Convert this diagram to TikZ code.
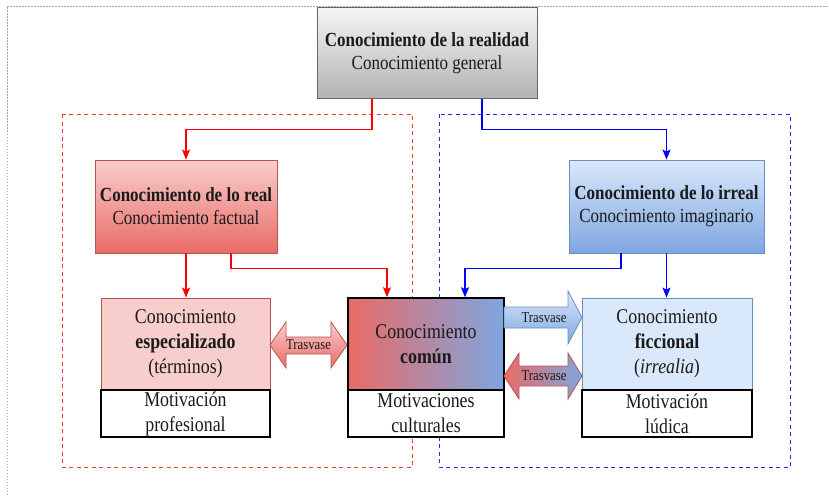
\documentclass[tikz,border=0pt]{standalone}
\usepackage{graphicx}
\usepackage{fontspec}
\setmainfont{Liberation Serif}
\usetikzlibrary{arrows.meta}
\definecolor{rfillA}{HTML}{F8CECC}
\definecolor{rfillB}{HTML}{EA6B66}
\definecolor{rborder}{HTML}{B85450}
\definecolor{bfillA}{HTML}{DAE8FC}
\definecolor{bfillB}{HTML}{7EA6E0}
\definecolor{bborder}{HTML}{6C8EBF}
\definecolor{gfillA}{HTML}{F5F5F5}
\definecolor{gfillB}{HTML}{B3B3B3}
\definecolor{gborder}{HTML}{666666}
\definecolor{txt}{HTML}{1A1A1A}
\definecolor{pure red}{HTML}{FF0000}
\definecolor{pure blue}{HTML}{0000FF}
\newcommand\sq[1]{\scalebox{0.85}[1]{#1}}
\tikzset{
  boxbase/.style={rectangle, inner sep=0pt, align=center, text=txt},
  hdbox/.style={boxbase, font=\fontsize{20}{23}\selectfont},
  lowtext/.style={boxbase, font=\fontsize{21}{25}\selectfont},
  motbox/.style={lowtext, fill=white, draw=black, line width=1.2pt},
  trv/.style={boxbase, font=\fontsize{15}{16}\selectfont},
  redline/.style={draw=pure red, line width=1.1pt, -{Stealth[length=10pt,width=8pt,inset=2pt]}},
  blueline/.style={draw=pure blue, line width=1.1pt, -{Stealth[length=10pt,width=8pt,inset=2pt]}},
  redframe/.style={draw=red!80, line width=1pt, dash pattern=on 4pt off 3.5pt},
  blueframe/.style={draw=pure blue!85, line width=1pt, dash pattern=on 4pt off 3.5pt},
  outerframe/.style={draw=black!35, line width=0.8pt, dash pattern=on 1.5pt off 1.5pt},
}
\begin{document}
\begin{tikzpicture}[x=1pt,y=-1pt]
\useasboundingbox (0,0) rectangle (829,495);
% outer frame
\draw[outerframe] (7,495) -- (7,6) -- (829,6);
% group frames
\draw[redframe] (62,114) rectangle (412,467);
\draw[blueframe] (439,114) rectangle (790,467);
% top box
\node[hdbox, minimum width=220pt, minimum height=90pt, top color=gfillA, bottom color=gfillB, draw=gborder, line width=1pt] (top) at (427,53)
  {\sq{\textbf{Conocimiento de la realidad}}\\\sq{Conocimiento general}};
% second level
\node[hdbox, minimum width=182pt, minimum height=93pt, top color=rfillA, bottom color=rfillB, draw=rborder, line width=0.9pt] (real) at (186,206.5)
  {\sq{\textbf{Conocimiento de lo real}}\\\sq{Conocimiento factual}};
\node[hdbox, minimum width=195pt, minimum height=93pt, top color=bfillA, bottom color=bfillB, draw=bborder, line width=0.9pt] (irreal) at (666.5,206.5)
  {\sq{\textbf{Conocimiento de lo irreal}}\\\sq{Conocimiento imaginario}};
% third level
\node[lowtext, minimum width=169pt, minimum height=92pt, fill=rfillA, draw=rborder, line width=0.9pt] (espec) at (185.5,344)
  {\sq{Conocimiento}\\\sq{\textbf{especializado}}\\\sq{(términos)}};
\node[motbox, minimum width=169pt, minimum height=47pt] (mespec) at (185.5,413.5)
  {\sq{Motivación}\\\sq{profesional}};
\node[lowtext, minimum width=156pt, minimum height=92pt, left color=rfillB, right color=bfillB, draw=black, line width=1.5pt] (comun) at (426,344)
  {\sq{Conocimiento}\\\sq{\textbf{común}}};
\node[motbox, minimum width=156pt, minimum height=47pt, line width=1.5pt] (mcomun) at (426,413.5)
  {\sq{Motivaciones}\\\sq{culturales}};
\node[lowtext, minimum width=170pt, minimum height=92pt, fill=bfillA, draw=bborder, line width=0.9pt] (fic) at (667,344)
  {\sq{Conocimiento}\\\sq{\textbf{ficcional}}\\\sq{(\textit{irrealia})}};
\node[motbox, minimum width=170pt, minimum height=47pt] (mfic) at (667,413.5)
  {\sq{Motivación}\\\sq{lúdica}};
% connectors
\draw[redline] ([xshift=-55pt]top.south) -- ++(0,31) -| (real.north);
\draw[blueline] ([xshift=55pt]top.south) -- ++(0,31) -| (irreal.north);
\draw[redline] (real.south) -- (real.south |- espec.north);
\draw[redline] ([xshift=45pt]real.south) -- ++(0,15) -| ([xshift=-39pt]comun.north);
\draw[blueline] ([xshift=-45.5pt]irreal.south) -- ++(0,15) -| ([xshift=39pt]comun.north);
\draw[blueline] (irreal.south) -- (irreal.south |- fic.north);
% block arrows (Trasvase)
\path[top color=rfillA, bottom color=rfillB, draw=rborder, line width=0.8pt]
  (270,345) -- (286,322) -- (286,337) -- (331,337) -- (331,322) -- (347,345)
  -- (331,368) -- (331,354) -- (286,354) -- (286,368) -- cycle;
\node[trv] (t1) at (308.5,345) {\sq{Trasvase}};
\path[top color=bfillA, bottom color=bfillB, draw=bborder, line width=0.8pt]
  (504,307) -- (568,307) -- (568,291) -- (582,317.5) -- (568,344) -- (568,328) -- (504,328) -- cycle;
\node[trv] (t2) at (544,318) {\sq{Trasvase}};
\path[left color=rfillB, right color=bfillB, draw=rborder, line width=0.8pt]
  (504,376) -- (519,353) -- (519,366) -- (568,366) -- (568,353) -- (582,376)
  -- (568,399) -- (568,386) -- (519,386) -- (519,399) -- cycle;
\node[trv] (t3) at (544,376) {\sq{Trasvase}};
\end{tikzpicture}
\end{document}
